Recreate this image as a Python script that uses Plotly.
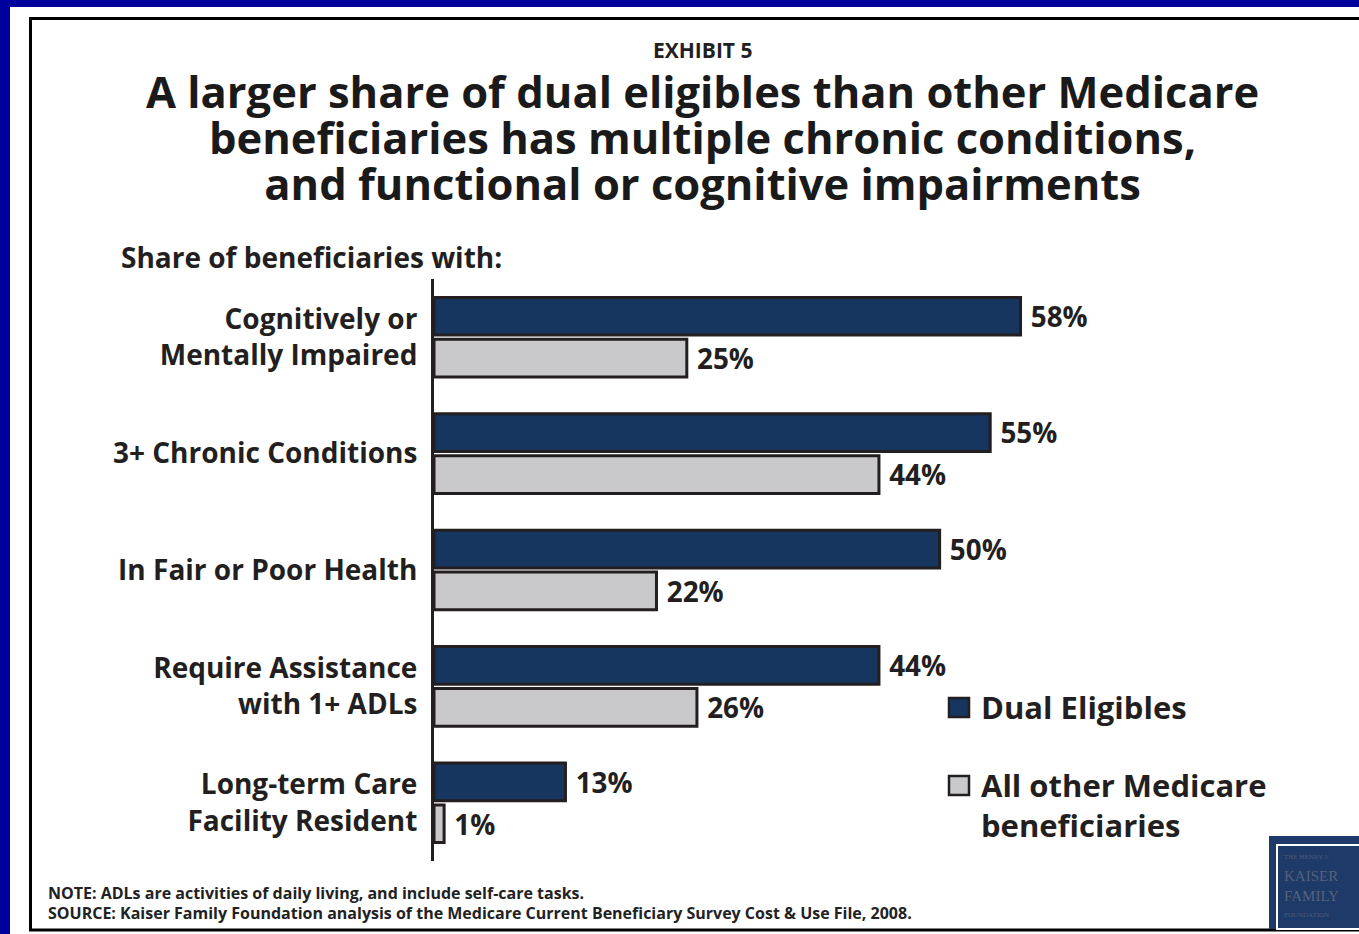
import plotly.graph_objects as go

# ---------------- data ----------------
categories = [
    "Cognitively or<br>Mentally Impaired",
    "3+ Chronic Conditions",
    "In Fair or Poor Health",
    "Require Assistance<br>with 1+ ADLs",
    "Long-term Care<br>Facility Resident",
]
dual_eligibles = [58, 55, 50, 44, 13]
all_other = [25, 44, 22, 26, 1]
series_names = ["Dual Eligibles", "All other Medicare", "beneficiaries"]

title_lines = [
    "A larger share of dual eligibles than other Medicare",
    "beneficiaries has multiple chronic conditions,",
    "and functional or cognitive impairments",
]
exhibit_label = "EXHIBIT 5"
subtitle = "Share of beneficiaries with:"
note_text = "<b>NOTE: ADLs are activities of daily living, and include self-care tasks.</b>"
source_text = ("<b>SOURCE: Kaiser Family Foundation analysis of the Medicare Current "
               "Beneficiary Survey Cost &amp; Use File, 2008.</b>")
logo_lines = ["THE HENRY J.", "KAISER", "FAMILY", "FOUNDATION"]

# ---------------- styling ----------------
W, H = 1359, 934
L, T = 434, 279
PH = 861 - 279
X_MAX = 80
PW = 809
R = W - L - PW
B = H - (T + PH)

NAVY = "#17365F"
GRAY = "#C9C9CB"
OUTLINE = "#231F20"
TEXT = "#231F20"
FONT = "Open Sans"


def px(x):
    return (x - L) / PW


def py(y):
    return 1 - (y - T) / PH


fig = go.Figure()
fig.add_trace(go.Bar(
    y=categories, x=dual_eligibles, orientation="h", name=series_names[0],
    marker=dict(color=NAVY, line=dict(color=OUTLINE, width=3)),
    text=dual_eligibles, texttemplate=" %{x}%", textposition="outside",
    textfont=dict(family=FONT, size=31, color=TEXT, weight="bold"),
    cliponaxis=False, showlegend=False,
))
fig.add_trace(go.Bar(
    y=categories, x=all_other, orientation="h", name=series_names[1] + " " + series_names[2],
    marker=dict(color=GRAY, line=dict(color=OUTLINE, width=3)),
    text=all_other, texttemplate=" %{x}%", textposition="outside",
    textfont=dict(family=FONT, size=31, color=TEXT, weight="bold"),
    cliponaxis=False, showlegend=False,
))

shapes = [
    # white page area inside blue border
    dict(type="rect", xref="paper", yref="paper", x0=px(10), x1=px(1400), y0=py(7), y1=py(960),
         fillcolor="white", line=dict(width=0), layer="below"),
    # black frame
    dict(type="rect", xref="paper", yref="paper", x0=px(30.5), x1=px(1400), y0=py(18.5), y1=py(930),
         fillcolor="rgba(0,0,0,0)", line=dict(color="black", width=3), layer="below"),
    # logo
    dict(type="rect", xref="paper", yref="paper", x0=px(1269), x1=px(1400), y0=py(836), y1=py(929),
         fillcolor="#1D3A69", line=dict(width=0), layer="above"),
    dict(type="rect", xref="paper", yref="paper", x0=px(1277), x1=px(1400), y0=py(845), y1=py(929),
         fillcolor="rgba(0,0,0,0)", line=dict(color="white", width=2), layer="above"),
    # legend swatches
    dict(type="rect", xref="paper", yref="paper", x0=px(949), x1=px(969), y0=py(698), y1=py(717),
         fillcolor=NAVY, line=dict(color=OUTLINE, width=2.5), layer="above"),
    dict(type="rect", xref="paper", yref="paper", x0=px(949), x1=px(969), y0=py(776), y1=py(795),
         fillcolor=GRAY, line=dict(color=OUTLINE, width=2.5), layer="above"),
]

title_html = "<br>".join(
    f"<span style='font-size:43.5px'><b>{line}</b></span>" for line in title_lines
)

annotations = [
    dict(text=f"<b>{exhibit_label}</b>", x=px(702), y=py(50), font=dict(size=21, color=TEXT, family=FONT)),
    # base size sets the 46px line spacing; the inner span sets the glyph size
    dict(text=title_html, x=px(702), y=py(137), font=dict(size=35.4, color="#1A1A1A", family=FONT)),
    dict(text=f"<b>{subtitle}</b>", x=px(119), y=py(257), xanchor="left",
         font=dict(size=28, color=TEXT, family=FONT)),
    dict(text=f"<b>{series_names[0]}</b>", x=px(979), y=py(707), xanchor="left",
         font=dict(size=31, color=TEXT, family=FONT)),
    dict(text=f"<b>{series_names[1]}</b>", x=px(979), y=py(785), xanchor="left",
         font=dict(size=31, color=TEXT, family=FONT)),
    dict(text=f"<b>{series_names[2]}</b>", x=px(979), y=py(825), xanchor="left",
         font=dict(size=31, color=TEXT, family=FONT)),
    dict(text=note_text, x=px(46), y=py(893), xanchor="left",
         font=dict(size=16, color="#222222", family=FONT)),
    dict(text=source_text, x=px(46), y=py(913), xanchor="left",
         font=dict(size=16, color="#222222", family=FONT)),
    dict(text=logo_lines[0], x=px(1282), y=py(857), xanchor="left",
         font=dict(size=7, color="#4E5B78", family="Liberation Serif")),
    dict(text=logo_lines[1], x=px(1282), y=py(876), xanchor="left",
         font=dict(size=15, color="#56627A", family="Liberation Serif")),
    dict(text=logo_lines[2], x=px(1282), y=py(896), xanchor="left",
         font=dict(size=15, color="#56627A", family="Liberation Serif")),
    dict(text=logo_lines[3], x=px(1282), y=py(915), xanchor="left",
         font=dict(size=7, color="#4E5B78", family="Liberation Serif")),
]
for a in annotations:
    a.update(xref="paper", yref="paper", showarrow=False)
    a.setdefault("xanchor", "center")
    a.setdefault("yanchor", "middle")

fig.update_layout(
    width=W, height=H,
    margin=dict(l=L, r=R, t=T, b=B, autoexpand=False),
    paper_bgcolor="#00009C", plot_bgcolor="white",
    barmode="group", bargap=0.28, bargroupgap=0.1,
    font=dict(family=FONT, color=TEXT),
    shapes=shapes, annotations=annotations,
    showlegend=False,
    xaxis=dict(range=[0, X_MAX], visible=False, fixedrange=True),
    yaxis=dict(autorange="reversed", showline=True, linecolor=OUTLINE, linewidth=3,
               showgrid=False, zeroline=False, ticks="", ticklabelstandoff=8,
               tickfont=dict(family=FONT, size=28, color=TEXT, weight="bold"),
               fixedrange=True),
)

fig.write_html(
    "out.html",
    config={"displayModeBar": False},
    post_script="document.body.style.margin='0';document.body.style.background='#00009C';",
)
